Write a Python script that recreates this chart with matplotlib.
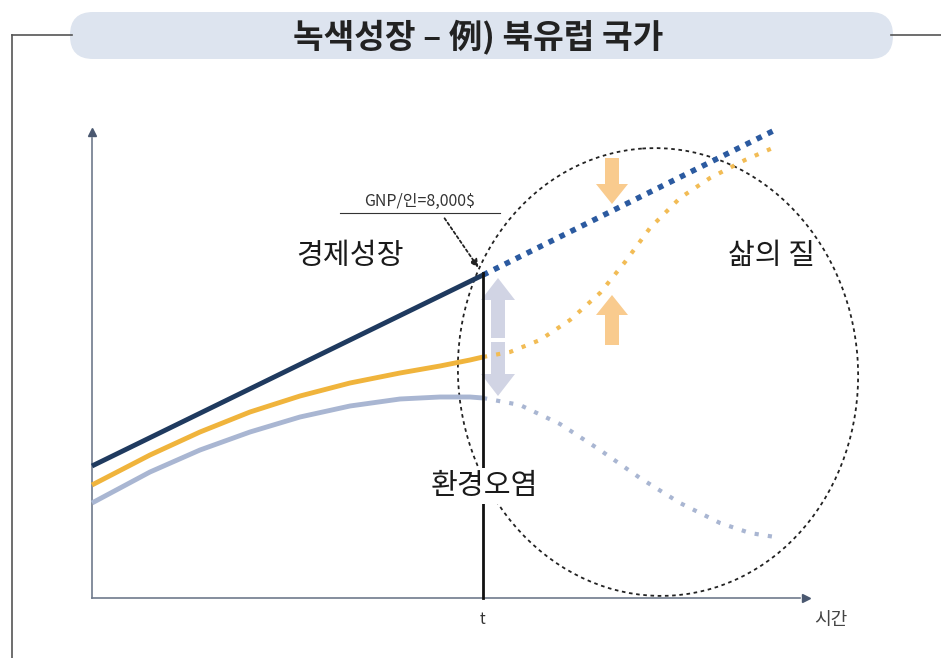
import numpy as np
import matplotlib.pyplot as plt
from matplotlib.patches import FancyBboxPatch, Ellipse, FancyArrow

plt.rcParams['font.family'] = ['Noto Sans CJK KR', 'DejaVu Sans']

# 좌표는 그림 픽셀 기준 (x: 오른쪽, y: 아래쪽)
# 경제성장 (실선 / 점선)
econ_x = [92, 483]
econ_y = [466, 275]
econ_dot_x = [483, 775]
econ_dot_y = [275, 130]

# 삶의 질 (실선 / 점선)
life_x = [92, 150, 200, 250, 300, 350, 400, 440, 470, 483]
life_y = [485, 455, 432, 412, 396, 383, 373, 366, 360, 357]
life_dot_x = [483, 510, 540, 570, 600, 625, 650, 680, 710, 745, 775]
life_dot_y = [357, 352, 340, 320, 293, 262, 228, 198, 178, 160, 147]

# 환경오염 (실선 / 점선)
env_x = [92, 150, 200, 250, 300, 350, 400, 440, 470, 483]
env_y = [503, 472, 450, 432, 417, 406, 399, 397, 397, 398]
env_dot_x = [483, 520, 560, 600, 640, 680, 720, 750, 775]
env_dot_y = [398, 405, 424, 450, 478, 503, 523, 533, 537]

title = '녹색성장 – 例) 북유럽 국가'

fig = plt.figure(figsize=(9.41, 6.58), dpi=100)
ax = fig.add_axes([0, 0, 1, 1])
ax.set_xlim(0, 941)
ax.set_ylim(658, 0)
ax.axis('off')

# 바깥 틀
ax.plot([12, 72], [35, 35], color='#555555', lw=1.2)
ax.plot([891, 941], [35, 35], color='#555555', lw=1.2)
ax.plot([12, 12], [35, 658], color='#555555', lw=1.2)

# 제목 상자
pill = FancyBboxPatch((70, 12), 823, 47, boxstyle='round,pad=0,rounding_size=23',
                      fc='#dde4ef', ec='none')
ax.add_patch(pill)
ax.text(478, 37, title, ha='center', va='center', fontsize=24,
        fontweight='bold', color='#222222')

# 축
ax.plot([92, 92], [598, 138], color='#6f7a8c', lw=1.2)
ax.plot([92, 800], [598, 598], color='#6f7a8c', lw=1.2)
ax.plot([92], [132], marker='^', color='#4a5870', ms=6)
ax.plot([806], [598], marker='>', color='#4a5870', ms=6)

ax.text(483, 620, 't', ha='center', va='center', fontsize=11, color='#333333')
ax.text(831, 620, '시간', ha='center', va='center', fontsize=13, color='#444444')

# 점선 타원
ell = Ellipse((658, 372), 400, 448, angle=-4, fill=False, ec='#222222',
              lw=1.3, ls=(0, (2, 2)))
ax.add_patch(ell)

# 곡선
ax.plot(env_x, env_y, color='#a9b6d2', lw=3.5, solid_capstyle='butt')
ax.plot(env_dot_x, env_dot_y, color='#a9b6d2', lw=3, ls=(0, (1, 2.2)))
ax.plot(life_x, life_y, color='#f0b43c', lw=3.5, solid_capstyle='butt')
ax.plot(life_dot_x, life_dot_y, color='#f2bc55', lw=3, ls=(0, (1, 2.2)))
ax.plot(econ_x, econ_y, color='#1f3a5f', lw=3.5, solid_capstyle='butt')
ax.plot(econ_dot_x, econ_dot_y, color='#2b5aa0', lw=4, ls=(0, (1, 1.2)))

# t 시점 세로선
ax.plot([483, 483], [273, 598], color='#111111', lw=2)

# 회색 양방향 화살표
ax.add_patch(FancyArrow(498, 338, 0, -60, width=14, head_width=34,
                        head_length=22, length_includes_head=True,
                        fc='#c9cde0', ec='none', alpha=0.85))
ax.add_patch(FancyArrow(498, 342, 0, 54, width=14, head_width=34,
                        head_length=22, length_includes_head=True,
                        fc='#c9cde0', ec='none', alpha=0.85))

# 주황 화살표
ax.add_patch(FancyArrow(612, 158, 0, 46, width=14, head_width=32,
                        head_length=20, length_includes_head=True,
                        fc='#f8c27a', ec='none', alpha=0.85))
ax.add_patch(FancyArrow(612, 345, 0, -50, width=14, head_width=32,
                        head_length=20, length_includes_head=True,
                        fc='#f8c27a', ec='none', alpha=0.85))

# GNP 주석
ax.text(420, 210, 'GNP/인=8,000$', ha='center', va='bottom', fontsize=11.5,
        color='#333333')
ax.plot([340, 500], [213, 213], color='#333333', lw=0.8)
ax.annotate('', xy=(480, 270), xytext=(443, 216),
            arrowprops=dict(arrowstyle='-|>', color='#222222', lw=1.3,
                            ls=(0, (1.5, 1.5)), mutation_scale=12))

# 라벨
ax.text(350, 256, '경제성장', ha='center', va='center', fontsize=21,
        fontweight='medium', color='#1a1a1a')
ax.text(772, 256, '삶의 질', ha='center', va='center', fontsize=21,
        fontweight='medium', color='#1a1a1a')
ax.text(484, 486, '환경오염', ha='center', va='center', fontsize=21,
        fontweight='medium', color='#1a1a1a',
        bbox=dict(fc='white', ec='none', pad=2))

fig.savefig('out.png', dpi=100)
